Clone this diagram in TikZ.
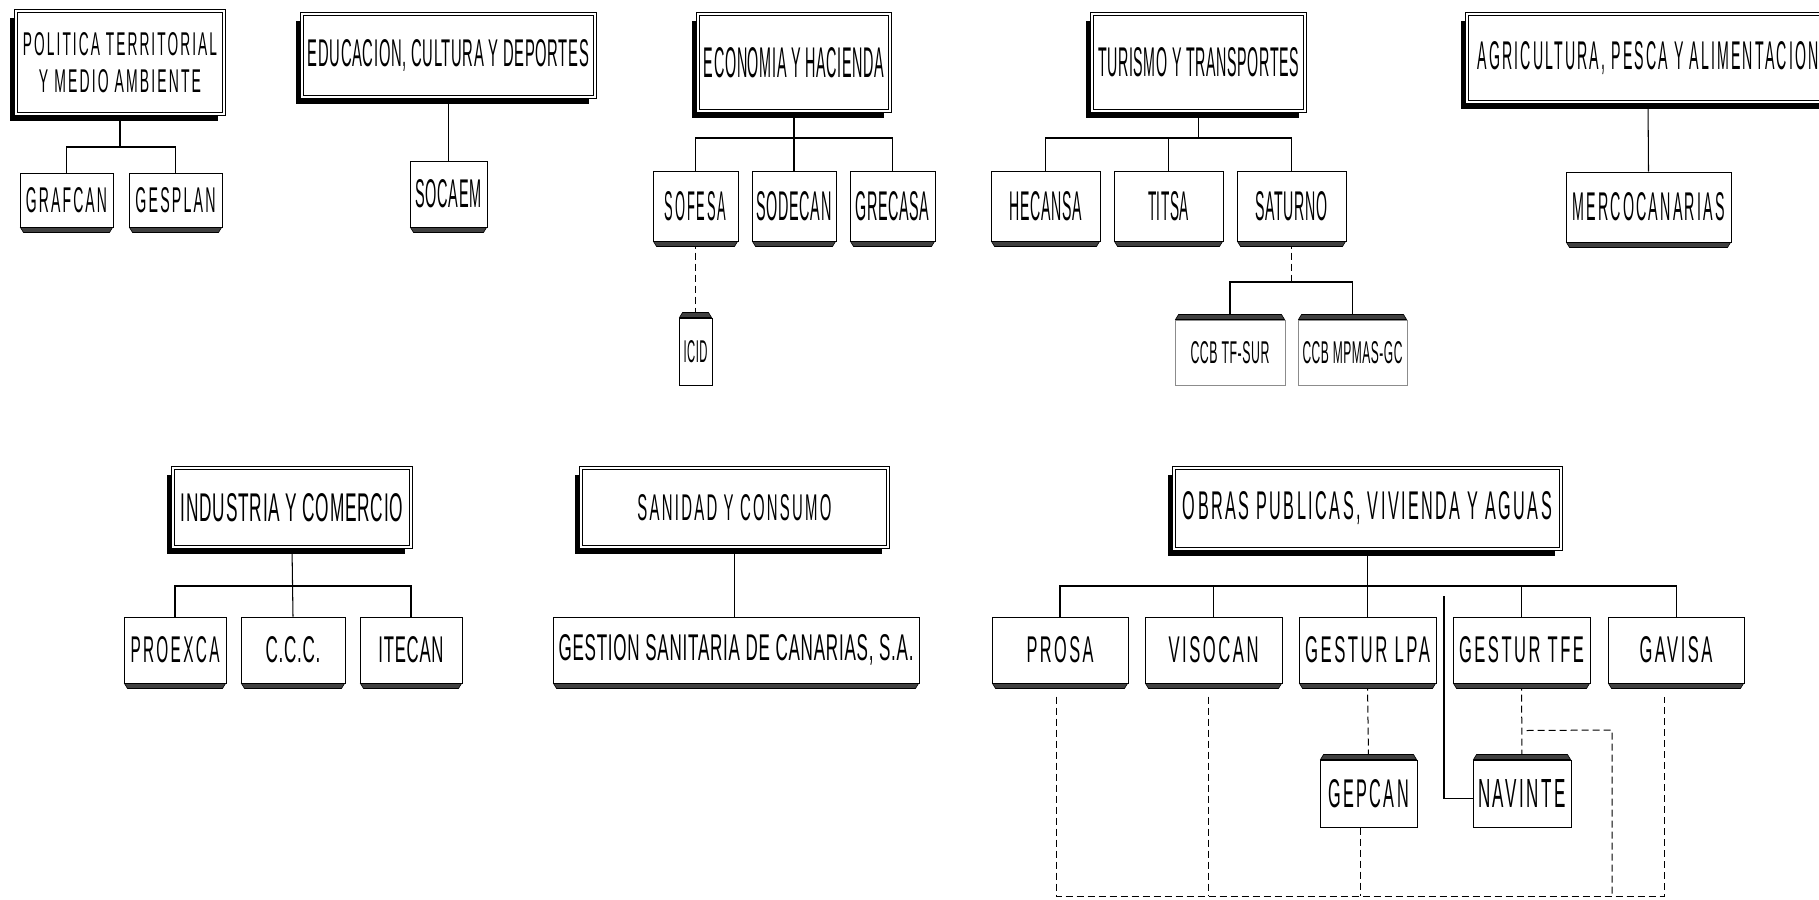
\documentclass[tikz,border=0pt]{standalone}
\usepackage{fontspec}
\usepackage{graphicx}
\newfontfamily\nar[FakeStretch=0.66,LetterSpace=10]{Liberation Sans}
\newfontfamily\nart[FakeStretch=0.68,LetterSpace=3]{Liberation Sans}
\usetikzlibrary{shadows,calc,backgrounds}
\newcommand\T[3]{\resizebox{#1pt}{#2pt}{\nar #3}}
\newcommand\TT[3]{\resizebox{#1pt}{#2pt}{\nart #3}}
\newcommand\botbar[1]{\filldraw[fill=black!75,draw=black,line width=0.6pt] ([xshift=1pt]#1.south west) -- ([xshift=-1pt]#1.south east) -- ([xshift=-4pt,yshift=-5pt]#1.south east) -- ([xshift=4pt,yshift=-5pt]#1.south west) -- cycle;}
\newcommand\topbar[1]{\filldraw[fill=black!75,draw=black,line width=0.6pt] ([xshift=1pt]#1.north west) -- ([xshift=-1pt]#1.north east) -- ([xshift=-4pt,yshift=5pt]#1.north east) -- ([xshift=4pt,yshift=5pt]#1.north west) -- cycle;}
\tikzset{
 head/.style={draw, line width=0.9pt, double=white, double distance=2.6pt, fill=white, inner sep=0pt,
   drop shadow={shadow xshift=-6pt, shadow yshift=-7pt, fill=black, opacity=1}},
 sub/.style={draw, line width=1pt, fill=white, inner sep=0pt},
 subg/.style={sub, draw=black!45},
 con/.style={line width=1.05pt},
 dsh/.style={line width=1pt, dash pattern=on 7pt off 4pt},
}
\begin{document}
\begin{tikzpicture}[x=1pt,y=-1pt]
\useasboundingbox (0,0) rectangle (1819,899);
% headers
\node[head, minimum width=208pt, minimum height=103pt, align=center, font=\fontsize{20}{37}\selectfont] (h1) at (120,62.5) {\T{194}{23}{POLITICA TERRITORIAL}\\\T{162}{23}{Y MEDIO AMBIENTE}};
\node[head, minimum width=293pt, minimum height=83pt] (h2) at (448.5,55.5) {\TT{281}{27}{EDUCACION, CULTURA Y DEPORTES}};
\node[head, minimum width=192pt, minimum height=97pt] (h3) at (794,62.5) {\TT{180}{30}{ECONOMIA Y HACIENDA}};
\node[head, minimum width=213pt, minimum height=97pt] (h4) at (1198.5,62.5) {\TT{201}{29}{TURISMO Y TRANSPORTES}};
\node[head, minimum width=362pt, minimum height=88pt] (h5) at (1648,58) {\T{341}{28}{AGRICULTURA, PESCA Y ALIMENTACION}};
\node[head, minimum width=238pt, minimum height=79pt] (h6) at (292,507.5) {\TT{222}{28}{INDUSTRIA Y COMERCIO}};
\node[head, minimum width=307pt, minimum height=79pt] (h7) at (734.5,507.5) {\T{194}{26}{SANIDAD Y CONSUMO}};
\node[head, minimum width=387pt, minimum height=81pt] (h8) at (1367.5,508.5) {\T{369}{28}{OBRAS PUBLICAS, VIVIENDA Y AGUAS}};
% level 2
\node[sub, minimum width=93pt, minimum height=54pt] (grafcan) at (66.5,200) {\T{81}{25}{GRAFCAN}};
\node[sub, minimum width=93pt, minimum height=54pt] (gesplan) at (175.5,200) {\T{80}{25}{GESPLAN}};
\node[sub, minimum width=77pt, minimum height=66pt] (socaem) at (448.5,194) {\TT{66}{28}{SOCAEM}};
\node[sub, minimum width=85pt, minimum height=70pt] (sofesa) at (695.5,206) {\T{62}{29}{SOFESA}};
\node[sub, minimum width=84pt, minimum height=70pt] (sodecan) at (794,206) {\TT{75}{29}{SODECAN}};
\node[sub, minimum width=85pt, minimum height=70pt] (grecasa) at (892.5,206) {\TT{74}{29}{GRECASA}};
\node[sub, minimum width=109pt, minimum height=70pt] (hecansa) at (1045.5,206) {\TT{72}{29}{HECANSA}};
\node[sub, minimum width=109pt, minimum height=70pt] (titsa) at (1168.5,206) {\TT{41}{29}{TITSA}};
\node[sub, minimum width=109pt, minimum height=70pt] (saturno) at (1291.5,206) {\TT{72}{29}{SATURNO}};
\node[sub, minimum width=165pt, minimum height=70pt] (merco) at (1648.5,207) {\T{152}{28}{MERCOCANARIAS}};
\node[sub, minimum width=102pt, minimum height=66pt] (proexca) at (175,650) {\T{89}{26}{PROEXCA}};
\node[sub, minimum width=104pt, minimum height=66pt] (ccc) at (293,650) {\TT{55}{26}{C.C.C.}};
\node[sub, minimum width=102pt, minimum height=66pt] (itecan) at (411,650) {\TT{65}{26}{ITECAN}};
\node[sub, minimum width=366pt, minimum height=66pt] (gestion) at (736,650) {\TT{355}{26}{GESTION SANITARIA DE CANARIAS, S.A.}};
\node[sub, minimum width=136pt, minimum height=66pt] (prosa) at (1060,650) {\T{67}{26}{PROSA}};
\node[sub, minimum width=137pt, minimum height=66pt] (visocan) at (1213.5,650) {\T{90}{26}{VISOCAN}};
\node[sub, minimum width=137pt, minimum height=66pt] (gesturlpa) at (1367.5,650) {\T{125}{26}{GESTUR LPA}};
\node[sub, minimum width=137pt, minimum height=66pt] (gesturtfe) at (1521.5,650) {\T{125}{26}{GESTUR TFE}};
\node[sub, minimum width=136pt, minimum height=66pt] (gavisa) at (1676,650) {\T{73}{26}{GAVISA}};
% level 3
\node[sub, minimum width=33pt, minimum height=67pt] (icid) at (695.5,351.5) {\TT{24}{22}{ICID}};
\node[subg, minimum width=110pt, minimum height=65pt] (ccb1) at (1230,352.5) {\TT{79}{22}{CCB TF-SUR}};
\node[subg, minimum width=109pt, minimum height=65pt] (ccb2) at (1352.5,352.5) {\TT{100}{22}{CCB MPMAS-GC}};
\node[sub, minimum width=97pt, minimum height=67pt] (gepcan) at (1368.5,793.5) {\T{81}{28}{GEPCAN}};
\node[sub, minimum width=98pt, minimum height=67pt] (navinte) at (1522,793.5) {\T{88}{28}{NAVINTE}};
% bars
\foreach \n in {grafcan,gesplan,socaem,sofesa,sodecan,grecasa,hecansa,titsa,saturno,merco,proexca,ccc,itecan,gestion,prosa,visocan,gesturlpa,gesturtfe,gavisa} {\botbar{\n}}
\foreach \n in {icid,ccb1,ccb2,gepcan,navinte} {\topbar{\n}}
% connectors
\begin{scope}[on background layer]
\coordinate (b1) at (121,147);
\draw[con] (h1.south) -- (h1.south |- b1);
\draw[con] (grafcan.north) -- (grafcan.north |- b1) -- (gesplan.north |- b1) -- (gesplan.north);
\draw[con] (h2.south) -- (socaem.north);
\coordinate (b3) at (794,138);
\draw[con] (h3.south) -- (sodecan.north);
\draw[con] (sofesa.north) -- (sofesa.north |- b3) -- (grecasa.north |- b3) -- (grecasa.north);
\draw[dsh] (sofesa.south) -- (icid.north);
\coordinate (b4) at (1198.5,138);
\draw[con] (h4.south) -- (h4.south |- b4);
\draw[con] (hecansa.north) -- (hecansa.north |- b4) -- (saturno.north |- b4) -- (saturno.north);
\draw[con] (titsa.north) -- (titsa.north |- b4);
\coordinate (b5) at (1291.5,282);
\draw[dsh] (saturno.south) -- (saturno.south |- b5);
\draw[con] (ccb1.north) -- (ccb1.north |- b5) -- (ccb2.north |- b5) -- (ccb2.north);
\draw[con] (h5.south) -- (merco.north);
\coordinate (b6) at (292,586);
\draw[con] (h6.south) -- (ccc.north);
\draw[con] (proexca.north) -- (proexca.north |- b6) -- (itecan.north |- b6) -- (itecan.north);
\draw[con] (h7.south) -- (h7.south |- gestion.north);
\coordinate (b8) at (1367.5,586);
\draw[con] (h8.south) -- (gesturlpa.north);
\draw[con] (prosa.north) -- (prosa.north |- b8) -- (gavisa.north |- b8) -- (gavisa.north);
\draw[con] (visocan.north) -- (visocan.north |- b8);
\draw[con] (gesturtfe.north) -- (gesturtfe.north |- b8);
\draw[dsh] (gesturlpa.south) -- (gepcan.north);
\draw[dsh] (gesturtfe.south) -- (navinte.north);
\coordinate (sl) at (1444,596);
\draw[con] (sl) |- ([yshift=-5pt]navinte.west);
\coordinate (bl) at (1056,896);
\coordinate (br) at (1664,896);
\draw[dsh] ($(prosa.south)+(-4,13)$) -- (bl) -- (br) -- ($(gavisa.south)+(-12,13)$);
\coordinate (vt) at ($(visocan.south)+(-5,13)$);
\draw[dsh] (vt) -- (vt |- bl);
\coordinate (gt) at ($(gepcan.south)+(-8,0)$);
\draw[dsh] (gt) -- (gt |- bl);
\coordinate (nt) at ($(gesturtfe.south)+(5,47)$);
\coordinate (nr) at (1612,730);
\draw[dsh] (nt) -- (nr) -- (nr |- bl);
\end{scope}
\end{tikzpicture}
\end{document}
